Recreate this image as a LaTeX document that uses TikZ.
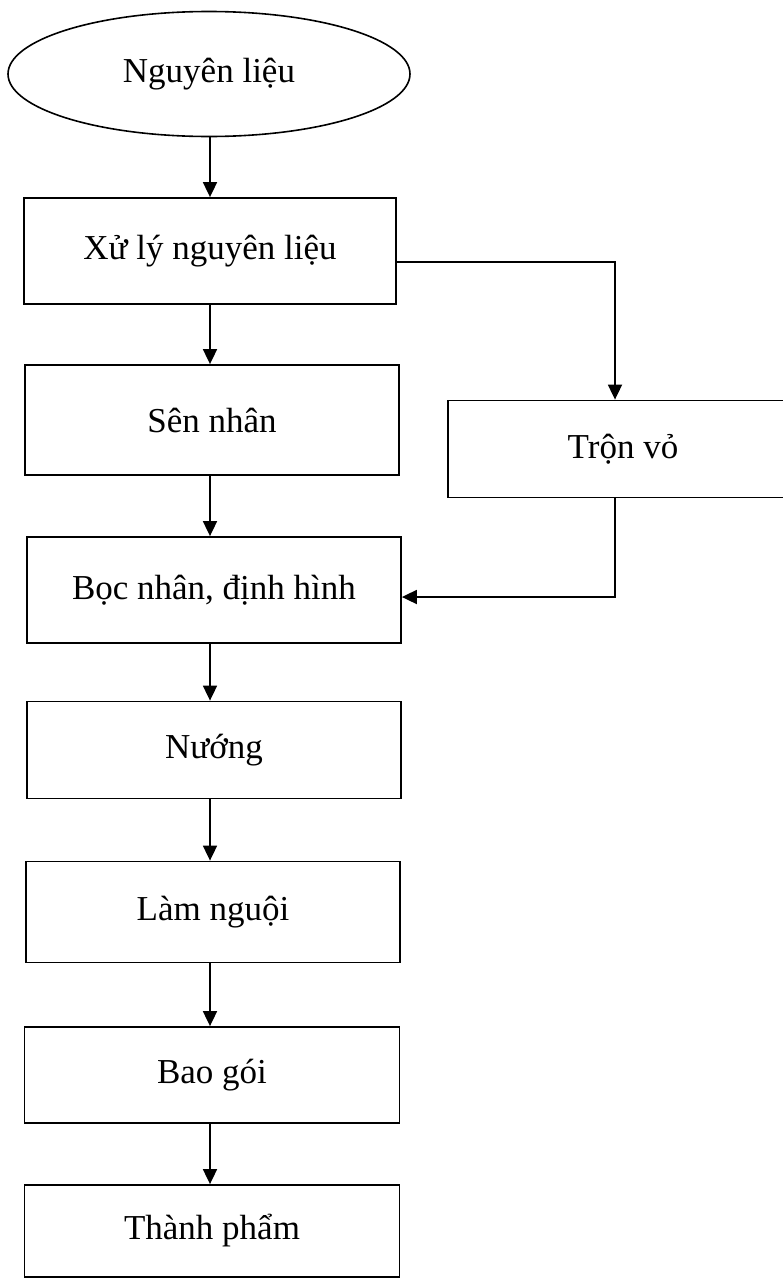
\documentclass[tikz,border=0pt]{standalone}
\usepackage{fontspec}
\setmainfont{Liberation Serif}
\usetikzlibrary{shapes.geometric,arrows.meta}
\begin{document}
\begin{tikzpicture}[x=1pt,y=-1pt,
  every node/.style={font=\fontsize{35}{38}\selectfont, inner sep=0pt},
  boxnode/.style={draw, line width=1.8pt, rectangle},
  ovalnode/.style={draw, line width=1.6pt, ellipse},
  conn/.style={line width=1.8pt, -{Triangle[length=15pt,width=14pt]}},
  plainline/.style={line width=1.8pt}]
\useasboundingbox (0,0) rectangle (783,1280);
\begin{scope}
\clip (0,0) rectangle (783,1280);
\node[ovalnode, minimum width=402pt, minimum height=125pt] (ell) at (209,74) {Nguyên liệu};
\node[boxnode, minimum width=372pt, minimum height=106pt] (b1) at (210,251) {Xử lý nguyên liệu};
\node[boxnode, minimum width=374pt, minimum height=110pt] (sen) at (212,420) {Sên nhân};
\node[boxnode, minimum width=350pt, minimum height=97pt] (tron) at (623,449) {Trộn vỏ};
\node[boxnode, minimum width=374pt, minimum height=106pt] (boc) at (214,590) {Bọc nhân, định hình};
\node[boxnode, minimum width=374pt, minimum height=97pt] (nuong) at (214,750) {Nướng};
\node[boxnode, minimum width=374pt, minimum height=101pt] (lam) at (213,912) {Làm nguội};
\node[boxnode, minimum width=375pt, minimum height=96pt] (bao) at (212,1075) {Bao gói};
\node[boxnode, minimum width=375pt, minimum height=92pt] (thanh) at (212,1231) {Thành phẩm};
\end{scope}
\coordinate (tx) at (615,262);
\coordinate (by) at (615,597);
\coordinate (cx) at (210,0);
\draw[conn] (ell.south -| cx) -- (b1.north -| cx);
\draw[conn] (b1.south -| cx) -- (sen.north -| cx);
\draw[conn] (sen.south -| cx) -- (boc.north -| cx);
\draw[conn] (boc.south -| cx) -- (nuong.north -| cx);
\draw[conn] (nuong.south -| cx) -- (lam.north -| cx);
\draw[conn] (lam.south -| cx) -- (bao.north -| cx);
\draw[conn] (bao.south -| cx) -- (thanh.north -| cx);
\draw[conn] (b1.east |- tx) -- (tx) -- (tron.north -| tx);
\draw[conn] (tron.south -| tx) -- (by) -- (boc.east |- by);
\end{tikzpicture}
\end{document}
